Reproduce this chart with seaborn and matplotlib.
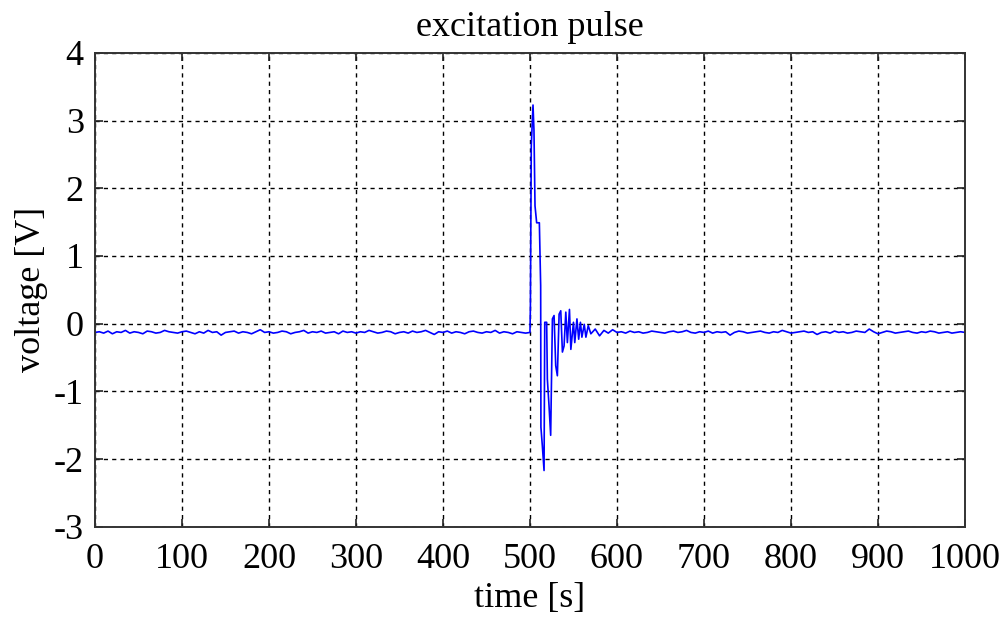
import numpy as np
import pandas as pd
import matplotlib
matplotlib.use("Agg")
import matplotlib.pyplot as plt
import seaborn as sns

# baseline before the pulse, every 5 s from 0 to 495
pre_t = np.arange(0, 500, 5)
pre_v = [-0.13, -0.12, -0.14, -0.11, -0.15, -0.12, -0.13, -0.10, -0.14, -0.12,
         -0.13, -0.15, -0.11, -0.12, -0.14, -0.13, -0.10, -0.12, -0.13, -0.14,
         -0.12, -0.11, -0.13, -0.15, -0.12, -0.14, -0.10, -0.13, -0.12, -0.17,
         -0.13, -0.12, -0.11, -0.14, -0.12, -0.13, -0.15, -0.12, -0.09, -0.13,
         -0.12, -0.14, -0.13, -0.11, -0.12, -0.15, -0.13, -0.12, -0.10, -0.14,
         -0.12, -0.13, -0.11, -0.14, -0.13, -0.12, -0.15, -0.11, -0.13, -0.12,
         -0.14, -0.12, -0.13, -0.10, -0.12, -0.14, -0.13, -0.11, -0.12, -0.15,
         -0.13, -0.12, -0.14, -0.11, -0.13, -0.12, -0.10, -0.13, -0.16, -0.12,
         -0.13, -0.11, -0.14, -0.12, -0.13, -0.15, -0.12, -0.11, -0.13, -0.14,
         -0.12, -0.13, -0.10, -0.14, -0.12, -0.13, -0.15, -0.12, -0.13, -0.14]

# the pulse and its ringing
pulse_t = [500, 500.5, 501.5, 503.5, 504.6, 505.8, 507.7, 510.8, 512.3, 512.6,
           514.2, 516.2, 517, 519.2, 520, 521.9, 523.8, 525.8, 527.7, 529.6,
           531.5, 533.5, 535.4, 537.3, 539.2, 541.2, 543, 545.4, 547, 550,
           551.5, 554, 556, 558, 559.7, 562.4, 564.3, 567]
pulse_v = [-0.13, 0.24, 2.62, 3.23, 2.86, 1.74, 1.49, 1.49, 0.56, -1.53,
           -1.80, -2.17, 0.02, 0.02, -0.82, -1.21, -1.65, 0.07, 0.12, -0.62,
           -0.77, 0.14, 0.19, -0.42, -0.33, 0.17, -0.28, 0.21, -0.38, 0.02,
           -0.28, 0.07, -0.23, 0.02, -0.20, -0.01, -0.20, -0.03]

# baseline after the pulse, every 5 s from 570 to 1000
post_t = np.arange(570, 1001, 5)
post_v = [-0.15, -0.08, -0.18, -0.10, -0.14, -0.09, -0.13, -0.12, -0.14, -0.11,
          -0.13, -0.12, -0.14, -0.13, -0.11, -0.12, -0.13, -0.14, -0.12, -0.11,
          -0.13, -0.12, -0.10, -0.13, -0.14, -0.12, -0.13, -0.11, -0.14, -0.12,
          -0.13, -0.12, -0.17, -0.13, -0.11, -0.12, -0.14, -0.13, -0.12, -0.11,
          -0.13, -0.14, -0.12, -0.13, -0.10, -0.12, -0.14, -0.13, -0.12, -0.11,
          -0.13, -0.12, -0.16, -0.13, -0.12, -0.14, -0.11, -0.13, -0.12, -0.14,
          -0.13, -0.11, -0.12, -0.13, -0.08, -0.12, -0.15, -0.13, -0.11, -0.12,
          -0.14, -0.13, -0.12, -0.11, -0.13, -0.14, -0.12, -0.13, -0.11, -0.12,
          -0.14, -0.13, -0.12, -0.14, -0.13, -0.12, -0.13]

df = pd.DataFrame({
    "t": np.concatenate([pre_t, pulse_t, post_t]),
    "v": np.concatenate([pre_v, pulse_v, post_v]),
})

sns.set_style("ticks")
plt.rcParams["font.family"] = ["Liberation Serif", "DejaVu Serif"]
plt.rcParams["axes.unicode_minus"] = False
plt.rcParams["text.color"] = "black"
plt.rcParams["axes.labelcolor"] = "black"

fig = plt.figure(figsize=(10.04, 6.28), dpi=100)
ax = fig.add_axes([0.0946, 0.1613, 0.8665, 0.7545])

sns.lineplot(data=df, x="t", y="v", estimator=None, sort=False,
             color="#0000ff", linewidth=1.2, ax=ax)

ax.set_xlim(0, 1000)
ax.set_ylim(-3, 4)
ax.set_xticks(np.arange(0, 1001, 100))
ax.set_yticks(np.arange(-3, 5, 1))
ax.grid(True, color="black", linestyle=(0, (3, 3)), linewidth=1.0)
ax.set_axisbelow(True)

for s in ax.spines.values():
    s.set_visible(True)
    s.set_color("#333333")
    s.set_linewidth(1.4)

ax.tick_params(direction="in", length=6, width=1.2, top=True, right=True,
               labelsize=26, colors="#222222", labelcolor="black")
ax.tick_params(axis="x", pad=12)
ax.tick_params(axis="y", pad=8)

ax.set_title("excitation pulse", fontsize=26, pad=12, color="black")
ax.set_xlabel("time [s]", fontsize=26, labelpad=4)
ax.set_ylabel("voltage [V]", fontsize=26, labelpad=4)

fig.savefig("out.png", dpi=100)
